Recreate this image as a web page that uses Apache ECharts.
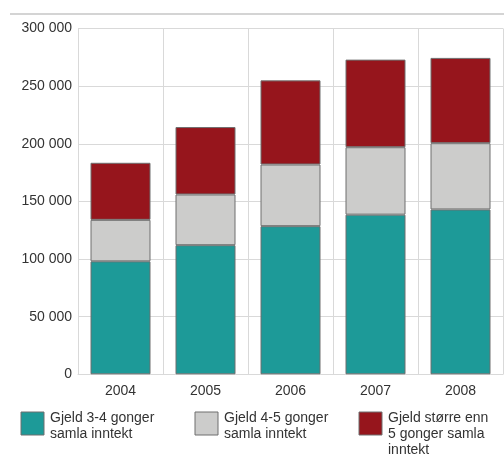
<!DOCTYPE html>
<html>
<head>
<meta charset="utf-8">
<script src="https://cdn.jsdelivr.net/npm/echarts@6/dist/echarts.min.js"></script>
<style>
  html, body { margin: 0; padding: 0; background: #fff; }
  #chart { width: 504px; height: 455px; }
</style>
</head>
<body>
<div id="chart"></div>
<script>
// Years on the category axis
const years = ['2004', '2005', '2006', '2007', '2008'];

// Number of households by debt-to-income ratio
const debt3to4 = [98000, 112000, 128500, 138500, 143000];
const debt4to5 = [36000, 44000, 53500, 58500, 57500];
const debtOver5 = [49500, 58500, 73000, 76000, 74000];

const seriesNames = [
  'Gjeld 3-4 gonger\nsamla inntekt',
  'Gjeld 4-5 gonger\nsamla inntekt',
  'Gjeld større enn\n5 gonger samla\ninntekt'
];
const seriesColors = ['#1d9a98', '#cccccb', '#96151c'];
const seriesData = [debt3to4, debt4to5, debtOver5];

const font = 'Liberation Sans, Arial, sans-serif';

function fmtThousands(v) {
  return String(v).replace(/\B(?=(\d{3})+(?!\d))/g, ' ');
}

const chart = echarts.init(document.getElementById('chart'), null, { renderer: 'canvas' });

// Legend key below the plot: swatch + wrapped label for each series
const keyLeft = [21, 195, 359];
const legendGraphics = [];
seriesNames.forEach((name, i) => {
  legendGraphics.push({
    type: 'rect',
    shape: { x: keyLeft[i], y: 412, width: 23, height: 23 },
    style: { fill: seriesColors[i], stroke: '#6f6f6f', lineWidth: 1 }
  });
  legendGraphics.push({
    type: 'text',
    x: keyLeft[i] + 29,
    y: 410.5,
    style: {
      text: name,
      fill: '#333',
      font: '14px ' + font,
      lineHeight: 16,
      verticalAlign: 'top',
      align: 'left'
    }
  });
});

chart.setOption({
  animation: false,
  backgroundColor: '#fff',
  textStyle: { fontFamily: font },
  graphic: [{
    type: 'line',
    shape: { x1: 10, y1: 14, x2: 504, y2: 14 },
    style: { stroke: '#d4d4d4', lineWidth: 2 }
  }].concat(legendGraphics),
  grid: { left: 78, top: 28.5, right: 1, bottom: 80.7, containLabel: false },
  xAxis: {
    type: 'category',
    data: years,
    boundaryGap: true,
    axisLine: { show: true, lineStyle: { color: '#d9d9d9' } },
    axisTick: { show: false },
    axisLabel: { color: '#333', fontSize: 14, fontFamily: font, margin: 10 },
    splitLine: { show: true, interval: 0, lineStyle: { color: '#d9d9d9', width: 1 } }
  },
  yAxis: {
    type: 'value',
    min: 0,
    max: 300000,
    interval: 50000,
    axisLine: { show: true, lineStyle: { color: '#d9d9d9' } },
    axisTick: { show: false },
    axisLabel: { color: '#333', fontSize: 14, fontFamily: font, margin: 6, formatter: fmtThousands },
    splitLine: { show: true, lineStyle: { color: '#d9d9d9', width: 1 } }
  },
  series: seriesNames.map((name, i) => ({
    name: name,
    type: 'bar',
    stack: 'total',
    barWidth: 60,
    data: seriesData[i],
    itemStyle: { color: seriesColors[i], borderColor: '#6f6f6f', borderWidth: 1 }
  }))
});
</script>
</body>
</html>
